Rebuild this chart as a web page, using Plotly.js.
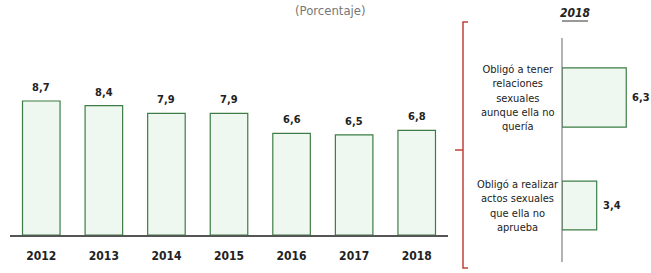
<!DOCTYPE html>
<html>
<head>
<meta charset="utf-8">
<script src="https://cdn.plot.ly/plotly-3.0.1.min.js"></script>
<style>html,body{margin:0;padding:0;background:#fff;}#chart{width:651px;height:273px;}</style>
</head>
<body>
<div id="chart"></div>
<script>
// Data
const years = ['2012', '2013', '2014', '2015', '2016', '2017', '2018'];
const pct = [8.7, 8.4, 7.9, 7.9, 6.6, 6.5, 6.8];
const types2018 = [
  'Obligó a tener<br>relaciones<br>sexuales<br>aunque ella no<br>quería',
  'Obligó a realizar<br>actos sexuales<br>que ella no<br>aprueba'
];
const pct2018 = [6.3, 3.4];
const subtitle = '(Porcentaje)';
const panelTitle = '2018';

const W = 651, H = 273;
const px = x => x / W;
const py = y => 1 - y / H;
const FONT = 'Liberation Sans Narrow, Arial Narrow, DejaVu Sans Condensed, Liberation Sans, sans-serif';
const fmt = v => v.toFixed(1).replace('.', ',');
const fill = '#eef8f1', edge = '#3d7d45';

const traces = [
  {
    type: 'bar', x: years, y: pct, xaxis: 'x', yaxis: 'y',
    width: 0.6,
    marker: {color: fill, line: {color: edge, width: 1.2}},
    hoverinfo: 'skip'
  },
  {
    type: 'bar', orientation: 'h', x: pct2018, y: types2018, xaxis: 'x2', yaxis: 'y2',
    width: [0.55, 0.45],
    marker: {color: fill, line: {color: edge, width: 1.2}},
    hoverinfo: 'skip'
  }
];

const annotations = [];
years.forEach((yr, i) => {
  annotations.push({
    xref: 'x', yref: 'y', x: i, y: pct[i], yanchor: 'bottom', yshift: 5,
    text: '<b>' + fmt(pct[i]) + '</b>', showarrow: false,
    font: {family: FONT, size: 11, color: '#222'}
  });
});
types2018.forEach((t, i) => {
  annotations.push({
    xref: 'x2', yref: 'y2', x: pct2018[i], y: i, xanchor: 'left', xshift: 4,
    text: '<b>' + fmt(pct2018[i]) + '</b>', showarrow: false,
    font: {family: FONT, size: 11, color: '#222'}
  });
  annotations.push({
    xref: 'paper', yref: 'y2', x: px(518), y: i, xanchor: 'center', align: 'center',
    text: t, showarrow: false,
    font: {family: FONT, size: 11, color: '#222'}
  });
});
annotations.push({
  xref: 'paper', yref: 'paper', x: px(331), y: py(11), xanchor: 'center', yanchor: 'middle',
  text: subtitle, showarrow: false, font: {family: FONT, size: 13, color: '#777'}
});
annotations.push({
  xref: 'paper', yref: 'paper', x: px(575), y: py(13), xanchor: 'center', yanchor: 'middle',
  text: '<b><i>' + panelTitle + '</i></b>', showarrow: false, font: {family: FONT, size: 12, color: '#222'}
});

const red = '#c0413a';
const shapes = [
  // red bracket
  {type: 'path', xref: 'paper', yref: 'paper',
   path: `M ${px(468)} ${py(22)} L ${px(463)} ${py(22)} L ${px(463)} ${py(268)} L ${px(468)} ${py(268)}`,
   line: {color: red, width: 1.5}},
  {type: 'line', xref: 'paper', yref: 'paper', x0: px(455), x1: px(463), y0: py(150), y1: py(150),
   line: {color: red, width: 1.5}},
  // vertical axis of 2018 panel
  {type: 'line', xref: 'paper', yref: 'paper', x0: px(562), x1: px(562), y0: py(38), y1: py(262),
   line: {color: '#666', width: 1}},
  // underline of panel title
  {type: 'line', xref: 'paper', yref: 'paper', x0: px(562), x1: px(588), y0: py(21), y1: py(21),
   line: {color: '#333', width: 1}}
];

const layout = {
  width: W, height: H, autosize: false,
  margin: {l: 0, r: 0, t: 0, b: 0},
  paper_bgcolor: '#ffffff', plot_bgcolor: 'rgba(0,0,0,0)',
  showlegend: false,
  font: {family: FONT, size: 11, color: '#222'},
  xaxis: {
    domain: [px(10), px(448)], range: [-0.5, 6.5], type: 'category',
    showline: true, linecolor: '#555', linewidth: 2,
    ticks: 'outside', ticklen: 9, tickcolor: 'rgba(0,0,0,0)',
    showgrid: false, zeroline: false,
    tickfont: {family: FONT, size: 12, color: '#222', weight: 'bold'},
    fixedrange: true
  },
  yaxis: {
    domain: [py(235), 1], range: [0, 235 / 15.4],
    visible: false, showgrid: false, zeroline: false, fixedrange: true
  },
  xaxis2: {
    anchor: 'y2', domain: [px(562), 1], range: [0, 89 / 10.2],
    visible: false, showgrid: false, zeroline: false, fixedrange: true
  },
  yaxis2: {
    anchor: 'x2', domain: [py(259.5), py(43.5)], range: [1.5, -0.5], type: 'category',
    categoryorder: 'array', categoryarray: types2018,
    visible: false, showgrid: false, zeroline: false, fixedrange: true
  },
  annotations: annotations,
  shapes: shapes
};

Plotly.newPlot('chart', traces, layout, {displayModeBar: false, staticPlot: true});
</script>
</body>
</html>
